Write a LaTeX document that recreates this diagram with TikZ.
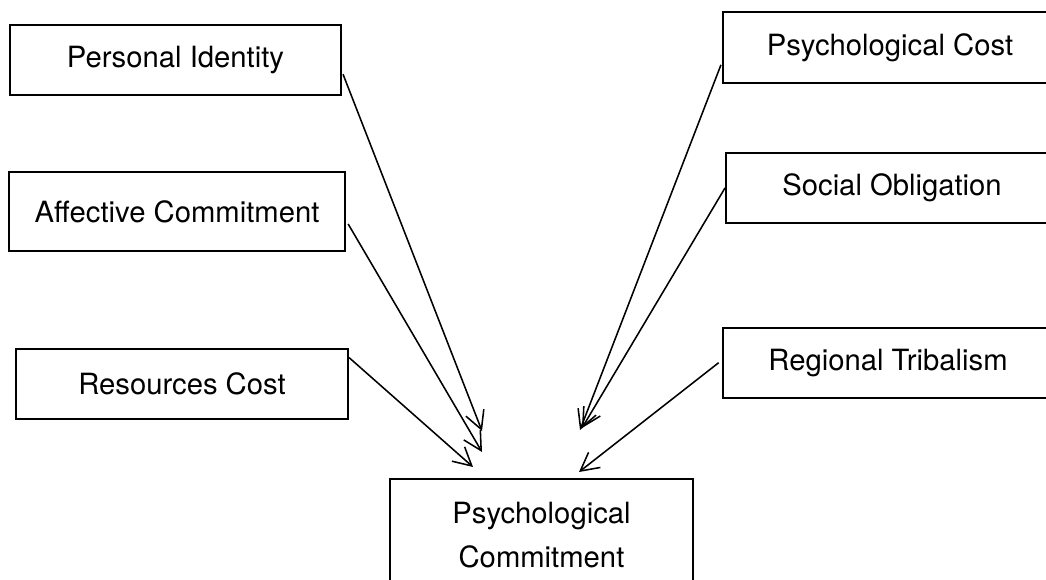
\documentclass[tikz,border=0pt]{standalone}
\usepackage{fontspec}
\setmainfont{TeX Gyre Heros}
\usetikzlibrary{arrows.meta}

\begin{document}
\begin{tikzpicture}[x=0.025cm, y=-0.025cm,
		factor/.style={draw, rectangle, line width=1.4pt, inner sep=0pt, font=\fontsize{20.8}{31}\selectfont},
		link/.style={line width=1.1pt, -{Straight Barb[length=4.5mm,width=4.8mm]}}]
		\useasboundingbox (0,0) rectangle (1046,579);
		\clip (0,0) rectangle (1046,579);

		% left factors
		\node[factor, minimum width=8.275cm, minimum height=1.75cm] (pid) at (175.5,60) {Personal Identity};
		\node[factor, minimum width=8.4cm, minimum height=1.975cm] (aff) at (177,211.5) {Affective Commitment};
		\node[factor, minimum width=8.3cm, minimum height=1.75cm] (res) at (182,384) {Resources Cost};

		% right factors
		\node[factor, minimum width=8.35cm, minimum height=1.775cm] (psyc) at (890,47.5) {Psychological Cost};
		\node[factor, minimum width=8.3cm, minimum height=1.75cm] (soc) at (892,188) {Social Obligation};
		\node[factor, minimum width=8.25cm, minimum height=1.75cm] (reg) at (888,363) {Regional Tribalism};

		% outcome
		\node[factor, align=center, minimum width=7.575cm, minimum height=2.8cm] (commit) at (541.5,535) {Psychological\\Commitment};

		% arrow tips
		\coordinate (tpid) at (482,431);
		\coordinate (taff) at (482,452);
		\coordinate (tres) at (473,467);
		\coordinate (tpsyc) at (580,430);
		\coordinate (tsoc) at (582,428);
		\coordinate (treg) at (579,472);

		\draw[link, shorten <=2pt] (pid.-4) -- (tpid);
		\draw[link, shorten <=3pt] (aff.-3) -- (taff);
		\draw[link] (res.9) -- (tres);
		\draw[link, shorten <=2pt] (psyc.185) -- (tpsyc);
		\draw[link] (soc.west) -- (tsoc);
		\draw[link, shorten <=3pt] (reg.179) -- (treg);
	\end{tikzpicture}
\end{document}
